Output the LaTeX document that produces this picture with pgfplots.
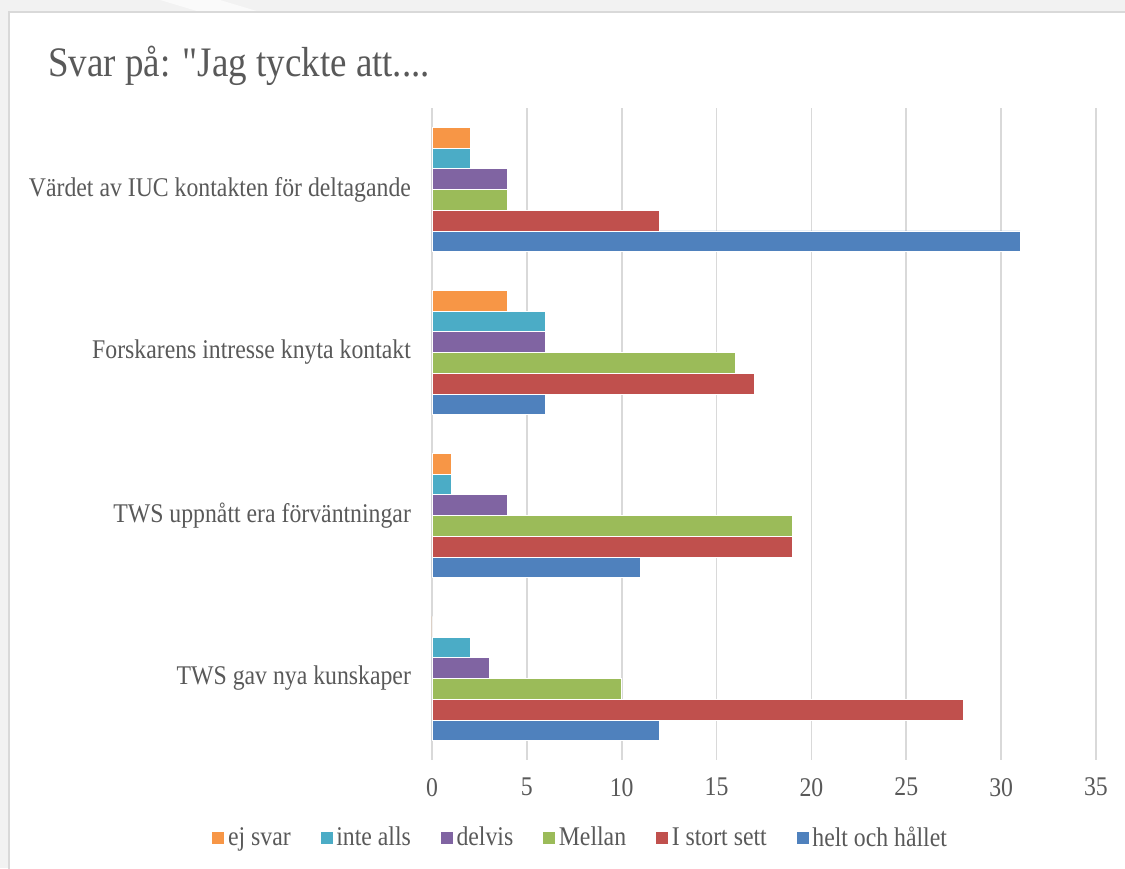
\documentclass[border=0pt]{standalone}
\usepackage{pgfplots}
\pgfplotsset{compat=1.18}
\usepackage{fontspec}
\setmainfont{Liberation Serif}[FakeStretch=0.88]
\newfontfamily\titlefont{Liberation Serif}[FakeStretch=0.88, Ligatures=TeXOff]
\definecolor{cHelt}{HTML}{4F81BD}
\definecolor{cStort}{HTML}{C0504D}
\definecolor{cMellan}{HTML}{9BBB59}
\definecolor{cDelvis}{HTML}{8064A2}
\definecolor{cInte}{HTML}{4BACC6}
\definecolor{cEj}{HTML}{F79646}
\definecolor{txt}{HTML}{595959}
\definecolor{gridc}{HTML}{D9D9D9}
\definecolor{bgc}{HTML}{F2F2F2}
\begin{document}
\begin{tikzpicture}
\useasboundingbox (0pt,0pt) rectangle (562.5pt,434pt);
\fill[bgc] (0pt,0pt) rectangle (562.5pt,434pt);
\fill[white!60!bgc] (80pt,434pt) -- (110pt,434pt) -- (130pt,428pt) -- (100pt,428pt) -- cycle;
\filldraw[fill=white, draw=gridc, line width=0.8pt] (4.5pt,-5pt) rectangle (570pt,428pt);
\node[anchor=base west, text=txt, font=\titlefont\fontsize{21}{25}\selectfont, inner sep=0pt] at (24pt,395.5pt) {Svar på: "Jag tyckte att....};
\begin{axis}[
  at={(216pt,54pt)}, anchor=south west,
  scale only axis, width=332pt, height=326pt,
  xbar=0pt, bar width=10.35pt,
  xmin=0, xmax=35, ymin=-0.5, ymax=3.5,
  xtick={0,5,10,15,20,25,30,35},
  ytick={0,1,2,3},
  yticklabels={TWS gav nya kunskaper, TWS uppnått era förväntningar, Forskarens intresse knyta kontakt, Värdet av IUC kontakten för deltagande},
  /pgf/number format/assume math mode=true,
  tick style={draw=none}, major tick length=0pt,
  axis line style={draw=none},
  xmajorgrids, major grid style={draw=gridc, line width=0.8pt},
  ticklabel style={font=\fontsize{13.5}{16}\selectfont, text=txt},
  xticklabel style={yshift=-5.5pt},
  yticklabel style={xshift=-7pt},
  legend columns=6,
  reverse legend,
  legend style={at={(0.224,-0.1196)}, anchor=center, draw=none, fill=none,
    font=\fontsize{13.5}{16}\selectfont, text=txt,
    /tikz/every even column/.append style={column sep=13pt},
    nodes={inner sep=1.5pt}},
  legend image code/.code={\fill[#1] (0pt,-3.2pt) rectangle (6.4pt,3.2pt);},
  every axis plot/.append style={draw=white, line width=0.4pt},
]
\addplot[fill=cHelt] coordinates {(12,0) (11,1) (6,2) (31,3)};
\addlegendentry{helt och hållet}
\addplot[fill=cStort] coordinates {(28,0) (19,1) (17,2) (12,3)};
\addlegendentry{I stort sett}
\addplot[fill=cMellan] coordinates {(10,0) (19,1) (16,2) (4,3)};
\addlegendentry{Mellan}
\addplot[fill=cDelvis] coordinates {(3,0) (4,1) (6,2) (4,3)};
\addlegendentry{delvis}
\addplot[fill=cInte] coordinates {(2,0) (1,1) (6,2) (2,3)};
\addlegendentry{inte alls}
\addplot[fill=cEj] coordinates {(0,0) (1,1) (4,2) (2,3)};
\addlegendentry{ej svar}
\end{axis}
\end{tikzpicture}
\end{document}
